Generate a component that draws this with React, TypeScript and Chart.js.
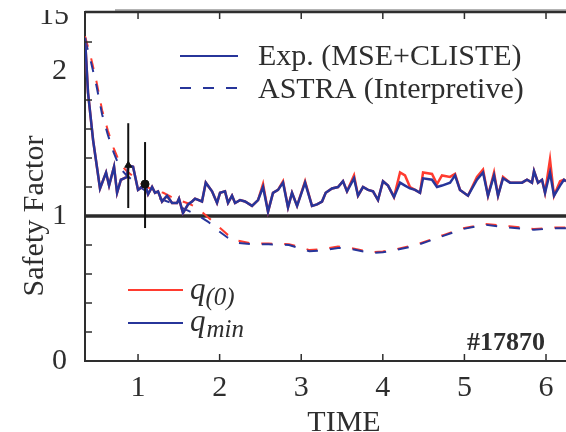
import React, { useEffect, useRef } from "react";
import { Chart, registerables } from "chart.js";

Chart.register(...registerables);

const SERIF = "'Liberation Serif', 'DejaVu Serif', serif";
const INK = "#2e2e2e";
const BLUE = "#27359a";
const RED = "#ff3b2f";

// Axis ranges and tick values
const X_MIN = 0.35;
const X_MAX = 6.245;
const Y_MIN = 0;
const Y_MAX = 2.407;
const xTickValues = [1, 2, 3, 4, 5, 6];
const yTickValues = [0, 1, 2];
const yMinorTicks = [0.2, 0.4, 0.6, 0.8, 1.2, 1.4, 1.6, 1.8, 2.2];
const topClippedLabel = "15";
const topClippedValue = 2.38;

// Experimental q (MSE + CLISTE reconstruction)
const expTime = [
  0.35, 0.387, 0.45, 0.534, 0.608, 0.645, 0.706, 0.743, 0.79, 0.828, 0.865, 0.88, 0.939, 1.0,
  1.049, 1.086, 1.123, 1.172, 1.208, 1.245, 1.294, 1.355, 1.417, 1.478, 1.502, 1.551, 1.613,
  1.662, 1.699, 1.784, 1.83, 1.907, 1.968, 2.005, 2.066, 2.103, 2.152, 2.189, 2.25, 2.311,
  2.397, 2.471, 2.532, 2.593, 2.654, 2.716, 2.777, 2.838, 2.887, 2.949, 3.047, 3.132, 3.194,
  3.255, 3.3, 3.377, 3.451, 3.512, 3.561, 3.647, 3.696, 3.757, 3.819, 3.88, 3.941, 4.002,
  4.064, 4.137, 4.211, 4.272, 4.333, 4.395, 4.456, 4.493, 4.603, 4.664, 4.725, 4.824, 4.885,
  4.946, 5.044, 5.154, 5.228, 5.289, 5.363, 5.412, 5.473, 5.56, 5.645, 5.706, 5.767, 5.828,
  5.853, 5.902, 5.951, 5.988, 6.049, 6.098, 6.172, 6.22, 6.245,
];
const expQmin = [
  2.23, 1.85, 1.52, 1.19, 1.3, 1.21, 1.34, 1.16, 1.25, 1.26, 1.27, 1.35, 1.34, 1.18,
  1.2, 1.22, 1.15, 1.2, 1.16, 1.17, 1.1, 1.14, 1.09, 1.09, 1.12, 1.02, 1.08,
  1.1, 1.12, 1.1, 1.23, 1.17, 1.09, 1.16, 1.17, 1.09, 1.14, 1.09, 1.11, 1.1,
  1.07, 1.11, 1.2, 1.03, 1.16, 1.18, 1.23, 1.06, 1.16, 1.07, 1.23, 1.07, 1.08,
  1.1, 1.16, 1.19, 1.2, 1.24, 1.17, 1.26, 1.14, 1.2, 1.18, 1.17, 1.11, 1.24,
  1.21, 1.13, 1.23, 1.21, 1.19, 1.18, 1.16, 1.26, 1.25, 1.2, 1.21, 1.23, 1.28,
  1.18, 1.14, 1.25, 1.3, 1.14, 1.28, 1.14, 1.26, 1.23, 1.23, 1.23, 1.25, 1.23,
  1.31, 1.23, 1.25, 1.16, 1.3, 1.14, 1.21, 1.25, 1.24,
];
const expQ0 = [
  2.23, 1.85, 1.52, 1.19, 1.3, 1.21, 1.34, 1.16, 1.25, 1.26, 1.27, 1.35, 1.34, 1.18,
  1.2, 1.22, 1.15, 1.2, 1.16, 1.17, 1.1, 1.14, 1.09, 1.09, 1.12, 1.02, 1.08,
  1.1, 1.12, 1.1, 1.23, 1.17, 1.09, 1.16, 1.17, 1.09, 1.14, 1.09, 1.11, 1.1,
  1.07, 1.11, 1.22, 1.03, 1.16, 1.18, 1.24, 1.06, 1.16, 1.07, 1.24, 1.07, 1.08,
  1.1, 1.16, 1.19, 1.2, 1.24, 1.17, 1.28, 1.14, 1.2, 1.18, 1.17, 1.11, 1.24,
  1.21, 1.13, 1.3, 1.28, 1.2, 1.18, 1.16, 1.3, 1.29, 1.22, 1.28, 1.27, 1.29,
  1.18, 1.14, 1.27, 1.32, 1.14, 1.3, 1.14, 1.27, 1.23, 1.23, 1.23, 1.25, 1.23,
  1.31, 1.23, 1.25, 1.16, 1.39, 1.14, 1.24, 1.25, 1.24,
];

// ASTRA interpretive simulation
const astraTime = [
  0.35, 0.42, 0.49, 0.56, 0.63, 0.7, 0.78, 0.86, 0.95, 1.05, 1.18, 1.31, 1.45, 1.6, 1.72,
  1.86, 1.98, 2.1, 2.22, 2.4, 2.6, 2.85, 3.0, 3.1, 3.3, 3.45, 3.6, 3.85, 4.0, 4.15, 4.4,
  4.6, 4.75, 4.98, 5.25, 5.55, 5.85, 6.1, 6.245,
];
const astraQmin = [
  2.22, 2.07, 1.9, 1.7, 1.56, 1.44, 1.33, 1.28, 1.24, 1.19, 1.14, 1.11, 1.08, 1.04, 1.01,
  0.96, 0.9, 0.85, 0.815, 0.805, 0.805, 0.8, 0.775, 0.757, 0.765, 0.78, 0.775, 0.745, 0.75,
  0.765, 0.795, 0.835, 0.865, 0.91, 0.94, 0.92, 0.905, 0.915, 0.915,
];
const astraQ0 = [
  2.24, 2.1, 1.93, 1.73, 1.59, 1.47, 1.36, 1.31, 1.27, 1.22, 1.18, 1.16, 1.12, 1.09, 1.06,
  0.99, 0.93, 0.87, 0.83, 0.81, 0.81, 0.805, 0.785, 0.765, 0.775, 0.79, 0.78, 0.75, 0.755,
  0.77, 0.8, 0.84, 0.87, 0.915, 0.945, 0.93, 0.91, 0.92, 0.92,
];

// MSE reference points with uncertainty bars
const mseTime = [0.88, 1.086];
const mseQ = [1.35, 1.22];
const mseLow = [1.055, 0.917];
const mseHigh = [1.64, 1.51];
const mseMarker = ["triangle", "circle"];

const qOne = 1;

const toPoints = (t: number[], q: number[]) => t.map((x, i) => ({ x, y: q[i] }));

const decorPlugin = {
  id: "decor",
  afterDraw(chart: any) {
    const { ctx, chartArea: a, scales } = chart;
    const xs = scales.x;
    const ys = scales.y;
    const seg = (x1: number, y1: number, x2: number, y2: number) => {
      ctx.beginPath();
      ctx.moveTo(x1, y1);
      ctx.lineTo(x2, y2);
      ctx.stroke();
    };
    ctx.save();

    // frame along the top
    ctx.strokeStyle = "#9a9a9a";
    ctx.lineWidth = 1.5;
    seg(a.left + 30, a.top - 2, a.right, a.top - 2);
    ctx.strokeStyle = INK;
    ctx.lineWidth = 2.5;
    seg(a.left, a.top, a.right, a.top);

    // inward ticks
    ctx.lineWidth = 1.5;
    xTickValues.forEach((v) => {
      const px = xs.getPixelForValue(v);
      seg(px, a.bottom, px, a.bottom - 7);
      seg(px, a.top, px, a.top + 7);
    });
    yMinorTicks.forEach((v) => {
      const py = ys.getPixelForValue(v);
      seg(a.left, py, a.left + 7, py);
    });

    // clipped label at the top of the value axis
    ctx.save();
    ctx.beginPath();
    ctx.rect(0, a.top - 2, a.left - 2, 40);
    ctx.clip();
    ctx.fillStyle = INK;
    ctx.font = `30px ${SERIF}`;
    ctx.textAlign = "right";
    ctx.textBaseline = "middle";
    ctx.fillText(topClippedLabel, a.left - 16, ys.getPixelForValue(topClippedValue));
    ctx.restore();

    // axis titles
    ctx.fillStyle = INK;
    ctx.font = `30px ${SERIF}`;
    ctx.textAlign = "center";
    ctx.textBaseline = "alphabetic";
    ctx.fillText("TIME", 344, 431);
    ctx.save();
    ctx.translate(43, 216);
    ctx.rotate(-Math.PI / 2);
    ctx.fillText("Safety Factor", 0, 0);
    ctx.restore();

    // legend: data sources
    ctx.lineWidth = 2;
    ctx.strokeStyle = BLUE;
    seg(180, 56, 238, 56);
    ctx.setLineDash([11, 12]);
    seg(180, 88, 240, 88);
    ctx.setLineDash([]);
    ctx.textAlign = "left";
    ctx.fillText("Exp. (MSE+CLISTE)", 258, 65);
    ctx.fillText("ASTRA (Interpretive)", 258, 98);

    // legend: quantities
    ctx.strokeStyle = RED;
    seg(128, 290, 183, 290);
    ctx.strokeStyle = BLUE;
    seg(128, 323, 183, 323);
    ctx.font = `italic 31px ${SERIF}`;
    ctx.fillText("q", 190, 299);
    const qw = ctx.measureText("q").width;
    ctx.fillText("q", 190, 331);
    ctx.font = `italic 25px ${SERIF}`;
    ctx.fillText("(0)", 190 + qw, 305);
    ctx.fillText("min", 190 + qw + 1, 337);

    // shot number
    ctx.font = `bold 26px ${SERIF}`;
    ctx.textAlign = "right";
    ctx.fillText("#17870", 545, 350);

    ctx.restore();
  },
};

export default function App() {
  const canvasRef = useRef<HTMLCanvasElement | null>(null);

  useEffect(() => {
    const canvas = canvasRef.current;
    if (!canvas) return;

    const line = (data: any[], color: string, width: number, dash: number[] = []) => ({
      data,
      borderColor: color,
      backgroundColor: color,
      borderWidth: width,
      borderDash: dash,
      pointRadius: 0,
      tension: 0,
      fill: false,
    });

    const datasets: any[] = [];
    mseTime.forEach((t, i) => {
      datasets.push({
        data: [{ x: t, y: mseQ[i] }],
        showLine: false,
        pointRadius: 4,
        pointStyle: mseMarker[i],
        pointBackgroundColor: "#111",
        pointBorderColor: "#111",
        borderColor: "#111",
      });
      datasets.push(line([{ x: t, y: mseLow[i] }, { x: t, y: mseHigh[i] }], "#111", 2));
    });
    datasets.push(line(toPoints(expTime, expQmin), BLUE, 2.5));
    datasets.push(line(toPoints(expTime, expQ0), RED, 2.5));
    datasets.push(line(toPoints(astraTime, astraQmin), BLUE, 2, [11, 12]));
    datasets.push(line(toPoints(astraTime, astraQ0), RED, 2, [11, 12]));
    datasets.push(line([{ x: X_MIN, y: qOne }, { x: X_MAX, y: qOne }], "#2a2a2a", 3.5));

    const tickFont = { family: SERIF, size: 30 };

    const chart = new Chart(canvas, {
      type: "line",
      data: { datasets },
      plugins: [decorPlugin],
      options: {
        animation: false,
        responsive: false,
        events: [],
        layout: { autoPadding: false, padding: { top: 12, right: 0, bottom: 0, left: 0 } },
        plugins: { legend: { display: false }, tooltip: { enabled: false } },
        scales: {
          x: {
            type: "linear",
            min: X_MIN,
            max: X_MAX,
            grid: { display: false },
            border: { display: true, color: INK, width: 2 },
            afterBuildTicks: (s: any) => {
              s.ticks = xTickValues.map((value) => ({ value }));
            },
            afterFit: (s: any) => {
              s.height = 71;
              s.paddingLeft = 0;
              s.paddingRight = 0;
            },
            ticks: {
              font: tickFont,
              color: INK,
              padding: 1,
              maxRotation: 0,
              callback: (v: any) => String(v),
            },
          },
          y: {
            type: "linear",
            min: Y_MIN,
            max: Y_MAX,
            grid: { display: false },
            border: { display: true, color: INK, width: 2 },
            afterBuildTicks: (s: any) => {
              s.ticks = yTickValues.map((value) => ({ value }));
            },
            afterFit: (s: any) => {
              s.width = 85;
              s.paddingTop = 0;
              s.paddingBottom = 0;
            },
            ticks: {
              font: tickFont,
              color: INK,
              padding: 10,
              callback: (v: any) => String(v),
            },
          },
        },
      },
    } as any);

    return () => chart.destroy();
  }, []);

  return (
    <div style={{ position: "fixed", left: 0, top: 0, width: 566, height: 432, background: "#fff" }}>
      <canvas ref={canvasRef} width={566} height={432} style={{ display: "block" }} />
    </div>
  );
}
